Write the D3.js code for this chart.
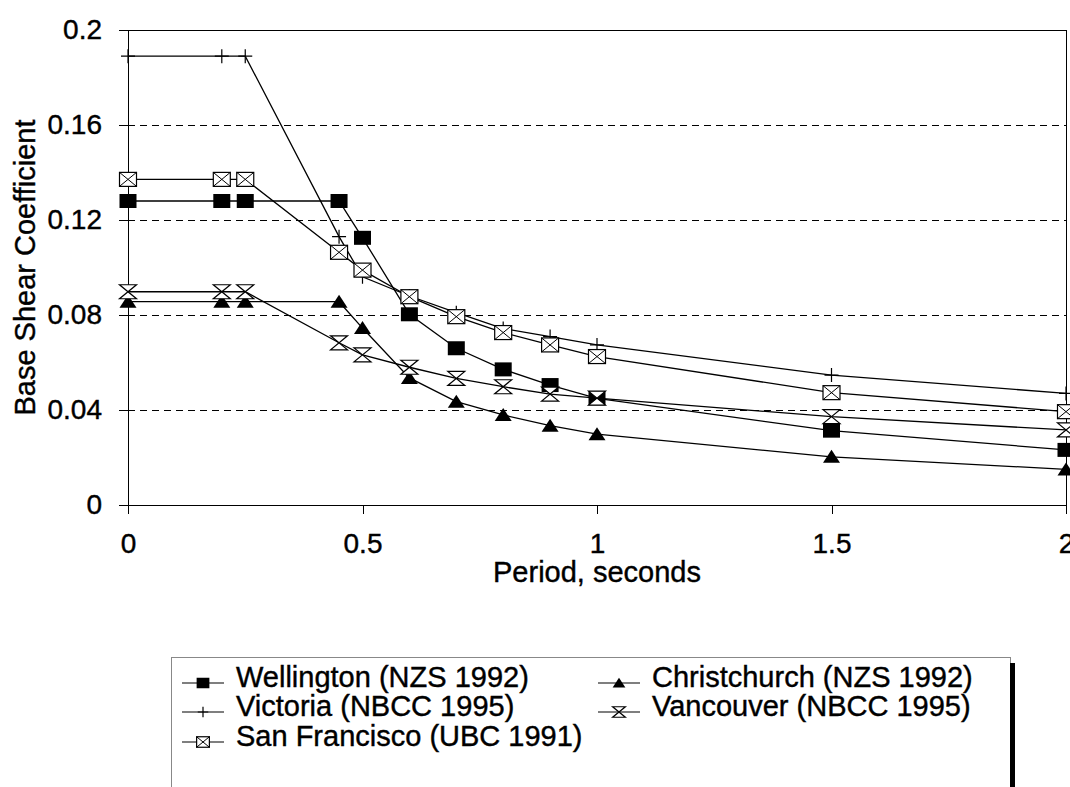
<!DOCTYPE html>
<html lang="en">
<head>
    <meta charset="UTF-8">
    <title>Base Shear Coefficient vs Period</title>
    <script src="https://cdn.jsdelivr.net/npm/d3@7"></script>
    <style>
        body { margin: 0; background: #fff; }
        svg { font-family: "Liberation Sans", Arial, sans-serif; }
        svg text { fill: #000; stroke: #000; stroke-width: 0.4; }
        .axis path, .axis line { fill: none; stroke: #000; stroke-width: 1; shape-rendering: crispEdges; }
        .axis text { font-size: 28px; }
        .grid line { stroke: #000; stroke-dasharray: 7,5; shape-rendering: crispEdges; }
        .series { fill: none; stroke: #000; stroke-width: 1.3; }
    </style>
</head>
<body>
<script type="application/javascript">
    // period values (seconds) shared by every series
    const periods = [0, 0.2, 0.25, 0.45, 0.5, 0.6, 0.7, 0.8, 0.9, 1.0, 1.5, 2.0];

    const wellington   = [0.128, 0.128, 0.128, 0.128, 0.1125, 0.0803, 0.066, 0.0571, 0.0505, 0.0449, 0.0313, 0.0232];
    const christchurch = [0.0856, 0.0856, 0.0856, 0.0856, 0.0745, 0.0535, 0.0435, 0.0379, 0.0334, 0.0298, 0.0203, 0.015];
    const victoria     = [0.189, 0.189, 0.189, 0.113, 0.0961, 0.088, 0.081, 0.0743, 0.0709, 0.0674, 0.0547, 0.047];
    const vancouver    = [0.0898, 0.0898, 0.0898, 0.0683, 0.0632, 0.058, 0.0533, 0.0498, 0.0467, 0.045, 0.0372, 0.0316];
    const sanFrancisco = [0.1371, 0.1371, 0.1371, 0.1064, 0.0989, 0.0877, 0.0793, 0.0726, 0.0674, 0.0625, 0.0473, 0.0393];

    const xTicks = [0, 0.5, 1, 1.5, 2];
    const yTicks = [0, 0.04, 0.08, 0.12, 0.16, 0.2];

    const seriesNames = ['Wellington (NZS 1992)', 'Christchurch (NZS 1992)', 'Victoria (NBCC 1995)',
        'Vancouver (NBCC 1995)', 'San Francisco (UBC 1991)'];
    const seriesValues = [wellington, christchurch, victoria, vancouver, sanFrancisco];
    const seriesMarkers = ['square', 'triangle', 'plus', 'hourglass', 'xbox'];

    const w = 1070, h = 787;
    const plotLeft = 128, plotRight = 1066, plotTop = 30, plotBottom = 505;

    let svg = d3.select('body')
        .append('svg')
        .attr('width', w)
        .attr('height', h);

    let xScale = d3.scaleLinear().domain([0, 2]).range([plotLeft, plotRight]);
    let yScale = d3.scaleLinear().domain([0, 0.2]).range([plotBottom, plotTop]);

    // dashed gridlines (inner ticks only)
    svg.append('g')
        .attr('class', 'grid')
        .selectAll('line')
        .data(yTicks.filter(d => d > 0 && d < 0.2))
        .enter()
        .append('line')
        .attr('x1', plotLeft).attr('x2', plotRight)
        .attr('y1', d => yScale(d)).attr('y2', d => yScale(d));

    // frame: top and right solid
    svg.append('path')
        .attr('d', `M${plotLeft},${yScale(0.2)}H${xScale(2)}V${yScale(0)}`)
        .attr('fill', 'none')
        .attr('stroke', '#000')
        .attr('shape-rendering', 'crispEdges');

    let xAxis = d3.axisBottom(xScale)
        .tickValues(xTicks)
        .tickFormat(d3.format('~g'))
        .tickSize(9)
        .tickSizeOuter(0)
        .tickPadding(19);
    svg.append('g')
        .attr('class', 'axis x')
        .attr('transform', 'translate(0,' + plotBottom + ')')
        .call(xAxis);

    let yAxis = d3.axisLeft(yScale)
        .tickValues(yTicks)
        .tickFormat(d => d === 0 ? '0' : d3.format('.2~f')(d))
        .tickSize(9)
        .tickSizeOuter(0)
        .tickPadding(17);
    svg.append('g')
        .attr('class', 'axis y')
        .attr('transform', 'translate(' + plotLeft + ',0)')
        .call(yAxis);

    // axis titles
    svg.append('text')
        .attr('x', (plotLeft + plotRight) / 2)
        .attr('y', 582)
        .attr('text-anchor', 'middle')
        .attr('font-size', 29)
        .text('Period, seconds');

    svg.append('text')
        .attr('transform', 'translate(35,' + (plotTop + plotBottom) / 2 + ') rotate(-90)')
        .attr('text-anchor', 'middle')
        .attr('font-size', 29)
        .text('Base Shear Coefficient');

    // marker drawing, s = scale factor
    function drawMarker(g, type, s) {
        if (type === 'square') {
            g.append('rect').attr('x', -8.5 * s).attr('y', -7 * s)
                .attr('width', 17 * s).attr('height', 14 * s).attr('fill', '#000');
        } else if (type === 'triangle') {
            g.append('path').attr('d', `M0,${-7 * s}L${8.5 * s},${6 * s}L${-8.5 * s},${6 * s}Z`).attr('fill', '#000');
        } else if (type === 'plus') {
            g.append('path').attr('d', `M${-7 * s},0H${7 * s}M0,${-7 * s}V${7 * s}`)
                .attr('stroke', '#000').attr('stroke-width', 1.2);
        } else if (type === 'hourglass') {
            g.append('path').attr('d', `M${-8.5 * s},${-7 * s}H${8.5 * s}L${-8.5 * s},${7 * s}H${8.5 * s}Z`)
                .attr('fill', '#fff').attr('stroke', '#000').attr('stroke-width', 1.2);
        } else if (type === 'xbox') {
            g.append('rect').attr('x', -8.5 * s).attr('y', -7 * s)
                .attr('width', 17 * s).attr('height', 14 * s)
                .attr('fill', '#fff').attr('stroke', '#000').attr('stroke-width', 1.2);
            g.append('path').attr('d', `M${-8.5 * s},${-7 * s}L${8.5 * s},${7 * s}M${8.5 * s},${-7 * s}L${-8.5 * s},${7 * s}`)
                .attr('stroke', '#000').attr('stroke-width', 1);
        }
    }

    let line = d3.line()
        .x((d, i) => xScale(periods[i]))
        .y(d => yScale(d));

    seriesValues.forEach((vals, k) => {
        svg.append('path')
            .attr('class', 'series')
            .attr('d', line(vals));
    });

    seriesValues.forEach((vals, k) => {
        svg.append('g')
            .selectAll('g')
            .data(vals)
            .enter()
            .append('g')
            .attr('transform', (d, i) => 'translate(' + xScale(periods[i]) + ',' + yScale(d) + ')')
            .each(function () { drawMarker(d3.select(this), seriesMarkers[k], 1); });
    });

    // legend
    let legend = svg.append('g');
    legend.append('rect')
        .attr('x', 171.5).attr('y', 657.5)
        .attr('width', 839).attr('height', 160)
        .attr('fill', '#fff').attr('stroke', '#888');
    legend.append('rect')
        .attr('x', 1010).attr('y', 663)
        .attr('width', 5).attr('height', 130)
        .attr('fill', '#000');

    const legendCols = [182, 598];
    const legendRows = [687, 716, 746];
    seriesNames.forEach((name, k) => {
        let x0 = legendCols[k % 2], y0 = legendRows[Math.floor(k / 2)];
        let item = legend.append('g').attr('transform', 'translate(' + x0 + ',' + y0 + ')');
        item.append('line').attr('x1', 0).attr('x2', 42).attr('y1', -4).attr('y2', -4)
            .attr('stroke', '#000').attr('stroke-width', 1.2);
        drawMarker(item.append('g').attr('transform', 'translate(21,-4)'), seriesMarkers[k], 0.75);
        item.append('text').attr('x', 54).attr('font-size', 29).text(name);
    });
</script>
</body>
</html>
